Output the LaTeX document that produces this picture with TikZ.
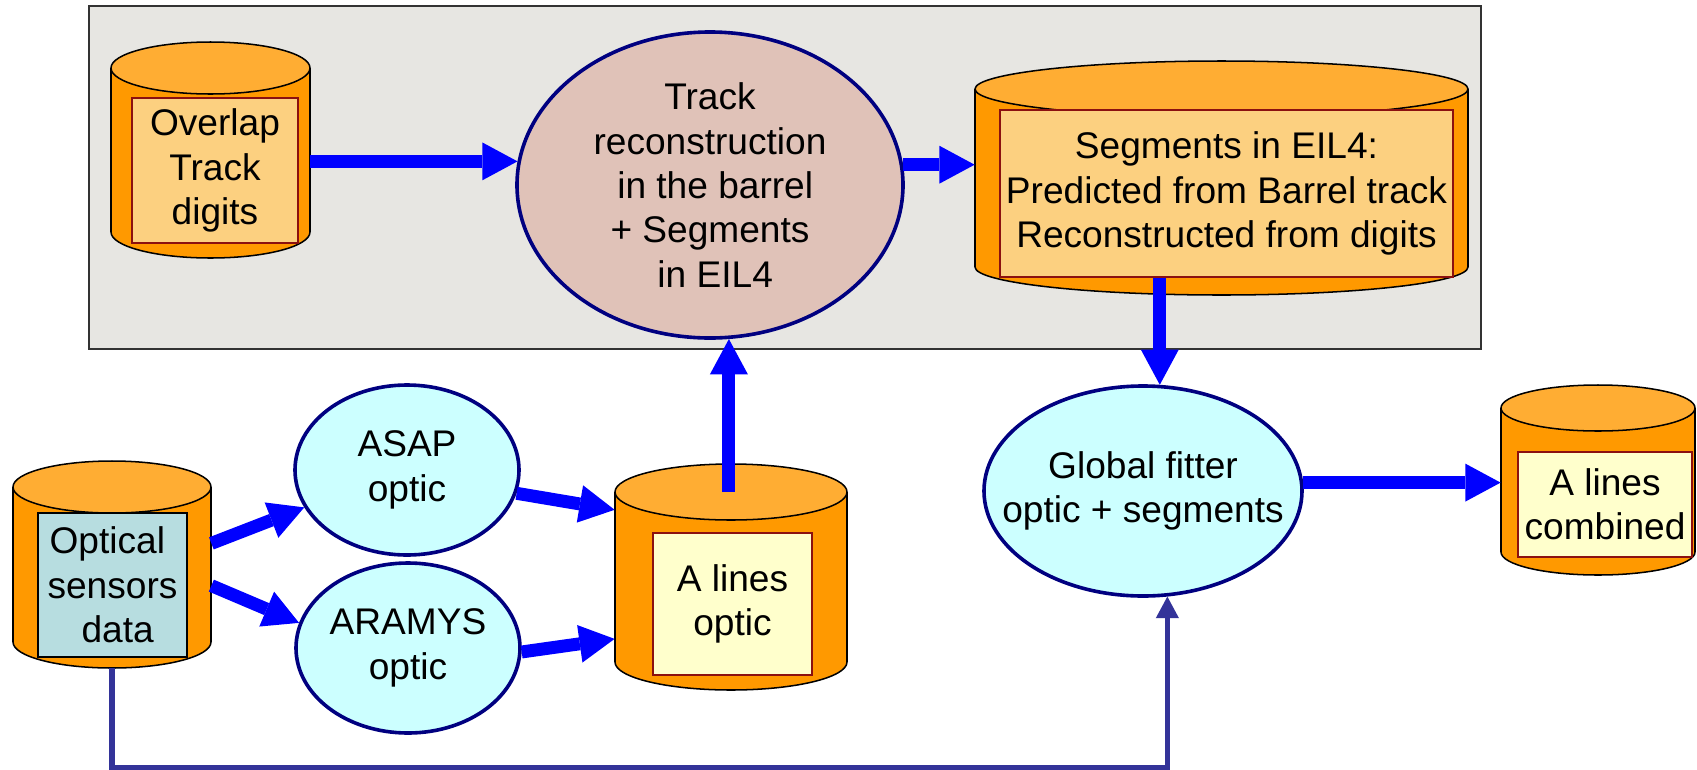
\documentclass[tikz,border=0pt]{standalone}
\usepackage{fontspec}
\setmainfont{Liberation Sans}
\usetikzlibrary{shapes.geometric,arrows.meta,fit}

\definecolor{panelgray}{HTML}{E7E6E2}
\definecolor{cylbody}{HTML}{FF9900}
\definecolor{cyltop}{HTML}{FFAD33}
\definecolor{tagorange}{HTML}{FCD080}
\definecolor{tagyellow}{HTML}{FFFFCC}
\definecolor{tagblue}{HTML}{B7DDE0}
\definecolor{tagline}{HTML}{8B1010}
\definecolor{procrose}{HTML}{E0C2B8}
\definecolor{proccyan}{HTML}{CCFFFF}
\definecolor{procline}{HTML}{000080}
\definecolor{flowblue}{HTML}{0000FF}
\definecolor{linkblue}{HTML}{333399}

\newcommand{\pxu}{0.01848cm}
\newcommand{\gapsp}{\hspace*{0.28em}}
% storage cylinder: name, left, right, top centre, bottom centre, y radius
\newcommand{\dbcyl}[6]{%
  \path[cylwall] ({(#2+#3)/2},#5) ellipse [x radius={(#3-#2)/2}, y radius=#6];
  \path[fill=cylbody] (#2,#4) rectangle (#3,#5);
  \path[draw,line width=0.8pt] (#2,#4) -- (#2,#5) (#3,#4) -- (#3,#5);
  \path[cylwall,fill=cyltop] ({(#2+#3)/2},#4) ellipse [x radius={(#3-#2)/2}, y radius=#6];
  \node[fit={(#2,{#4-#6}) (#3,{#5+#6})}, inner sep=0pt] (#1) {};
  \coordinate (#1-top) at ({(#2+#3)/2},#4);
}

\begin{document}
\begin{tikzpicture}[x=\pxu, y=-\pxu,
  txt/.style={font=\fontsize{19.5}{23.3}\selectfont, align=center, inner sep=0pt},
  cylwall/.style={draw, line width=0.8pt, fill=cylbody},
  tag/.style={rectangle, draw=tagline, line width=0.8pt, inner sep=0pt, txt},
  proc/.style={ellipse, draw=procline, line width=1.9pt, inner sep=0pt},
  flow/.style={draw=flowblue, line width=6.8pt, -{Triangle[length=0.65cm, width=0.7cm, line width=0pt]}},
  link/.style={draw=linkblue, line width=2.8pt, -{Triangle[length=0.40cm, width=0.43cm, line width=0pt]}}]
\useasboundingbox (0,0) rectangle (1697,769);
\path[fill=panelgray, draw=black!80, line width=0.8pt] (89,6) rectangle (1481,349);

\dbcyl{ovl}{111}{310}{68}{232}{26}
\dbcyl{seg}{975}{1468}{89}{267}{28}
\dbcyl{opt}{13}{211}{487}{642}{26}
\dbcyl{alo}{615}{847}{492}{662}{28}
\dbcyl{comb}{1501}{1695}{408}{552}{23}

\node[tag, fill=tagorange, minimum width=166*\pxu, minimum height=145*\pxu] (ovlbox) at (215,170.5) {Overlap\\Track\\digits};
\node[tag, fill=tagorange, minimum width=453*\pxu, minimum height=167*\pxu] (segbox) at (1226.5,193.5) {Segments in EIL4:\\Predicted from Barrel track\\Reconstructed from digits};
\node[tag, draw=black, fill=tagblue, minimum width=149*\pxu, minimum height=144*\pxu] (optbox) at (112.5,585) {Optical\gapsp\\sensors\\\gapsp data};
\node[tag, fill=tagyellow, minimum width=159*\pxu, minimum height=142*\pxu] (alobox) at (732.5,604) {A lines\\optic};
\node[tag, fill=tagyellow, minimum width=174*\pxu, minimum height=105*\pxu] (combbox) at (1605,504.5) {A lines\\combined};

\node[proc, fill=procrose, minimum width=386*\pxu, minimum height=306*\pxu] (track) at (710,185) {};
\node[proc, fill=proccyan, minimum width=224*\pxu, minimum height=170*\pxu] (asap) at (407,470) {};
\node[proc, fill=proccyan, minimum width=224*\pxu, minimum height=170*\pxu] (aramys) at (408,648) {};
\node[proc, fill=proccyan, minimum width=318*\pxu, minimum height=210*\pxu] (fitter) at (1143,491) {};
\node[txt] (tracktxt) at (track) {Track\\reconstruction\\\gapsp in the barrel\\+ Segments\\\gapsp in EIL4};
\node[txt] (asaptxt) at (asap) {ASAP\\optic};
\node[txt] (aramystxt) at (aramys) {ARAMYS\\optic};
\node[txt] (fittertxt) at (fitter) {Global fitter\\optic + segments};

\path[flow] (track.173.4 -| ovl.east) -- (track.173.4);
\path[flow] (track.6.6) -- (track.6.6 -| seg.west);
\path[flow] (fitter.81.3 |- segbox.south) -- (fitter.81.3);
\path[flow] (fitter.3.25) -- (fitter.3.25 -| comb.west);
\path[flow] (track.-83.64 |- alo-top) -- (track.-83.64);
\path[flow] (asap.-12) -- (alo.150.3);
\path[flow] (aramys.-2) -- (alo.208.2);
\path[flow] (opt.12) -- (asap.200);
\path[flow] (opt.-12.8) -- (aramys.167);
\path[link] (opt.south) -- ++(0,99) -| (fitter.-77.5);
\end{tikzpicture}
\end{document}
